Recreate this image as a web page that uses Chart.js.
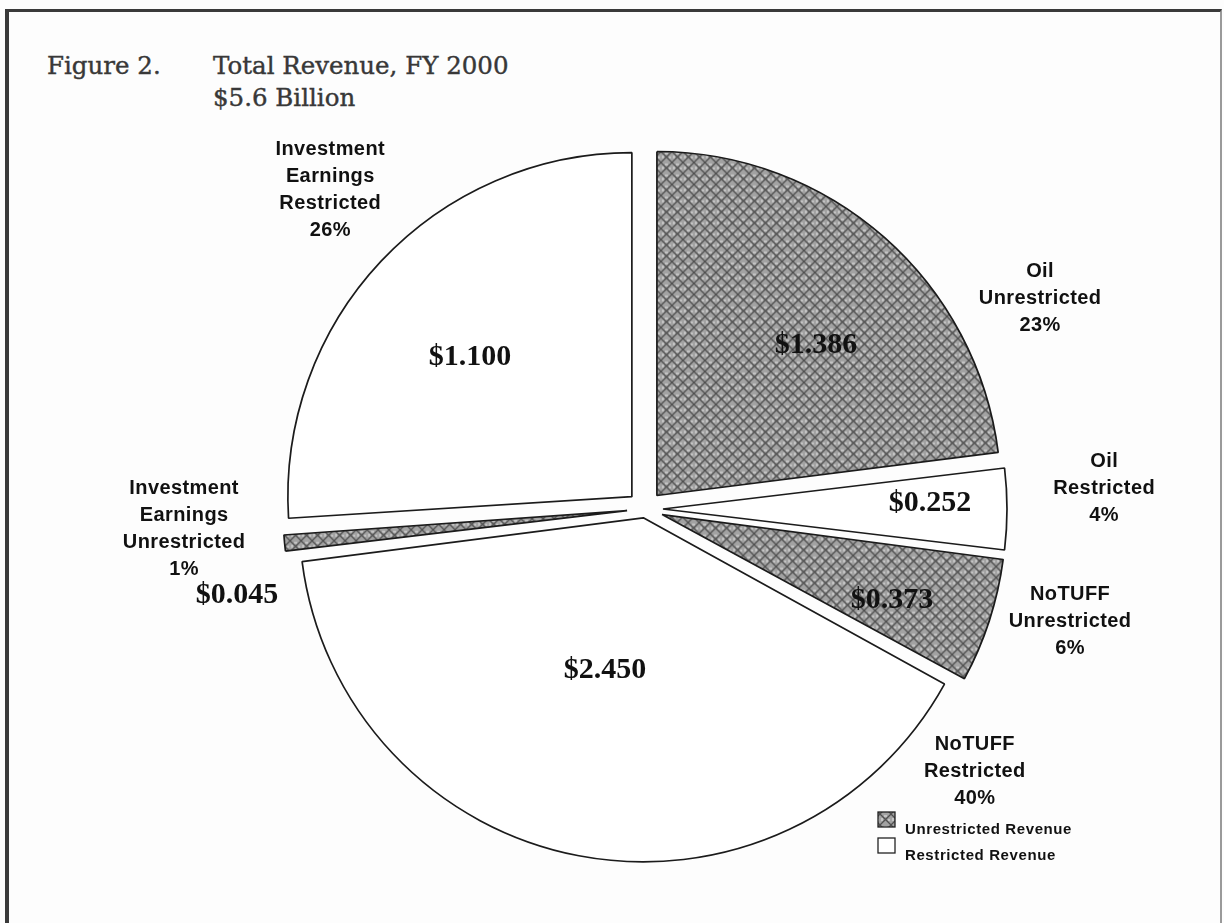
<!DOCTYPE html>
<html lang="en">
<head>
  <meta charset="UTF-8" />
  <meta name="viewport" content="width=device-width, initial-scale=1.0" />
  <title>Figure 2. Total Revenue, FY 2000</title>
  <script src="https://cdn.jsdelivr.net/npm/chart.js"></script>
  <style>
    html, body {
      margin: 0;
      padding: 0;
      background: #fff;
    }
    #marco {
      position: relative;
      width: 1224px;
      height: 923px;
      overflow: hidden;
      background: #fdfdfd;
    }
    .borde {
      position: absolute;
      left: 5px;
      top: 9px;
      right: 2px;
      bottom: -10px;
      border-left: 4px solid #3a3a3a;
      border-top: 3px solid #3a3a3a;
      border-right: 2px solid #9a9a9a;
    }
    .titulo {
      position: absolute;
      font-family: "DejaVu Serif", serif;
      font-size: 24.5px;
      line-height: 1;
      color: #383838;
      -webkit-text-stroke: 0.4px #383838;
      white-space: nowrap;
    }
    canvas {
      position: absolute;
      left: 0;
      top: 0;
    }
  </style>
</head>
<body>
  <div id="marco">
    <div class="borde"></div>
    <div class="titulo" style="left:47px; top:54px;">Figure 2.</div>
    <div class="titulo" style="left:213px; top:54px;">Total Revenue, FY 2000</div>
    <div class="titulo" style="left:213px; top:86px;">$5.6 Billion</div>
    <canvas id="graficoIngresos" width="1224" height="923"></canvas>
  </div>

  <script>
    // datos
    const etiquetas = [
      ['Oil', 'Unrestricted'],
      ['Oil', 'Restricted'],
      ['NoTUFF', 'Unrestricted'],
      ['NoTUFF', 'Restricted'],
      ['Investment', 'Earnings', 'Unrestricted'],
      ['Investment', 'Earnings', 'Restricted']
    ];
    const porcentajes = [23, 4, 6, 40, 1, 26];
    const montos = [1.386, 0.252, 0.373, 2.450, 0.045, 1.100];
    const tipos = ['unrestricted', 'restricted', 'unrestricted', 'restricted', 'unrestricted', 'restricted'];
    const leyenda = ['Unrestricted Revenue', 'Restricted Revenue'];

    // estilo: separacion de cada porcion (Chart.js la divide entre 4)
    // y posicion de los rotulos [radio, giro en grados]
    const desplazamiento = [72, 72, 72, 36, 72, 72];
    const posEtiqueta = [[1.302, 20.5], [1.336, -2.5], [1.278, -3.2], [1.225, -62.3], [1.341, 2.9], [1.303, 2.2]];
    const posMonto = [[0.689, 4.8], [0.829, -1.2], [0.765, 2.2], [0.482, 3.2], [1.212, -6.5], [0.674, -2.2]];
    const posLeyenda = { x: 878, y: 812 };

    function crearTrama() {
      const c = document.createElement('canvas');
      c.width = 11;
      c.height = 11;
      const g = c.getContext('2d');
      g.fillStyle = '#a2a2a2';
      g.fillRect(0, 0, 11, 11);
      g.fillStyle = '#c4c4c4';
      g.fillRect(4, 1, 3, 2);
      g.fillRect(1, 4, 2, 3);
      g.fillRect(8, 5, 2, 2);
      g.strokeStyle = '#505050';
      g.lineWidth = 1.3;
      g.beginPath();
      g.moveTo(-2, -2); g.lineTo(13, 13);
      g.moveTo(13, -2); g.lineTo(-2, 13);
      g.stroke();
      return g.createPattern(c, 'repeat');
    }
    const trama = crearTrama();
    const colores = tipos.map(t => t === 'unrestricted' ? trama : '#ffffff');

    // el arco con offset se agranda en las porciones chicas; se compensa para que todas tengan el mismo radio
    const radioParejo = {
      id: 'radioParejo',
      afterDatasetsUpdate(chart) {
        const arcos = chart.getDatasetMeta(0).data;
        arcos.forEach((arco, i) => {
          const fix = 1 - Math.sin(Math.min(Math.PI, arco.circumference));
          arco.outerRadius -= desplazamiento[i] / 4 * fix;
        });
      }
    };

    const rotulos = {
      id: 'rotulos',
      afterDatasetsDraw(chart) {
        const ctx = chart.ctx;
        const meta = chart.getDatasetMeta(0);
        const radio = meta.controller.outerRadius;
        ctx.save();
        ctx.fillStyle = '#111';
        ctx.textAlign = 'center';
        ctx.textBaseline = 'middle';

        meta.data.forEach((arco, i) => {
          const p = arco.getProps(['x', 'y', 'startAngle', 'endAngle'], true);
          const medio = (p.startAngle + p.endAngle) / 2;
          const punto = ([k, giro]) => {
            const a = medio + giro * Math.PI / 180;
            return [p.x + Math.cos(a) * k * radio, p.y + Math.sin(a) * k * radio];
          };

          ctx.font = 'bold 30px "Liberation Serif", serif';
          ctx.letterSpacing = '0px';
          const [mx, my] = punto(posMonto[i]);
          ctx.fillText('$' + montos[i].toFixed(3), mx, my);

          ctx.font = 'bold 20px "Liberation Sans", Arial, sans-serif';
          ctx.letterSpacing = '0.4px';
          const lineas = etiquetas[i].concat(porcentajes[i] + '%');
          const [ex, ey] = punto(posEtiqueta[i]);
          const alto = 27;
          lineas.forEach((t, j) => {
            ctx.fillText(t, ex, ey + (j - (lineas.length - 1) / 2) * alto);
          });
        });

        // leyenda
        const rellenos = [trama, '#ffffff'];
        ctx.textAlign = 'left';
        ctx.font = 'bold 15px "Liberation Sans", Arial, sans-serif';
        ctx.letterSpacing = '0.6px';
        leyenda.forEach((texto, j) => {
          const y = posLeyenda.y + j * 26;
          ctx.fillStyle = rellenos[j];
          ctx.fillRect(posLeyenda.x, y, 17, 15);
          ctx.strokeStyle = '#222';
          ctx.lineWidth = 1.3;
          ctx.strokeRect(posLeyenda.x, y, 17, 15);
          ctx.fillStyle = '#111';
          ctx.fillText(texto, posLeyenda.x + 27, y + 18);
        });
        ctx.restore();
      }
    };

    const ctx = document.getElementById('graficoIngresos').getContext('2d');
    new Chart(ctx, {
      type: 'pie',
      data: {
        labels: etiquetas.map(e => e.join(' ')),
        datasets: [{
          data: porcentajes,
          backgroundColor: colores,
          borderColor: '#1b1b1b',
          borderWidth: 1.7,
          offset: desplazamiento,
          hoverOffset: 0,
          radius: 344
        }]
      },
      options: {
        responsive: false,
        animation: false,
        events: [],
        radius: 344,
        layout: {
          padding: { left: 100, right: 34, top: 120, bottom: 25 }
        },
        plugins: {
          legend: { display: false },
          tooltip: { enabled: false }
        }
      },
      plugins: [radioParejo, rotulos]
    });
  </script>
</body>
</html>
